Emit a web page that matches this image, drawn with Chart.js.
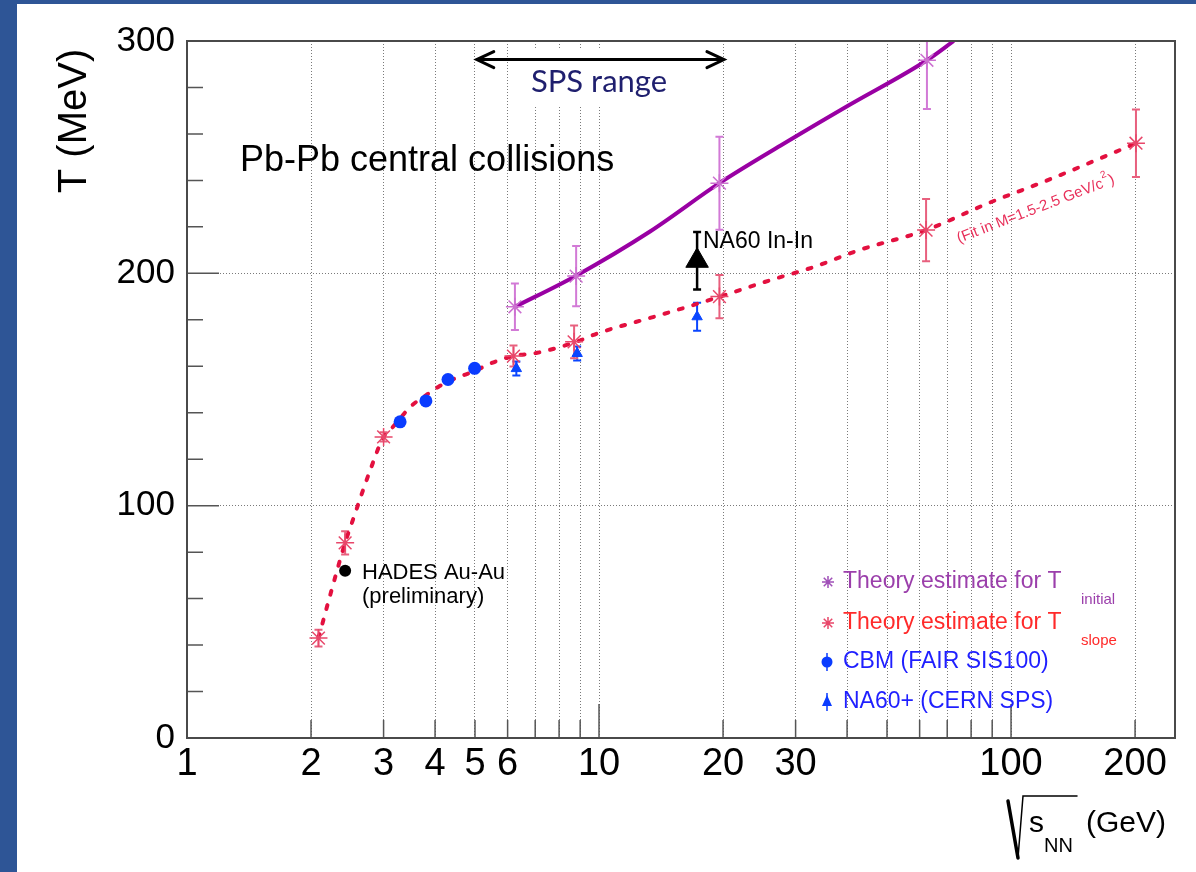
<!DOCTYPE html>
<html>
<head>
<meta charset="utf-8">
<script src="https://cdn.jsdelivr.net/npm/chart.js@4.4.1/dist/chart.umd.min.js"></script>
<style>
  html, body { margin: 0; padding: 0; background: #2e5596; }
  #wrap { width: 1196px; height: 872px; }
</style>
</head>
<body>
<div id="wrap"><canvas id="tempChart" width="1196" height="872"></canvas></div>
<script>
const FONT = "'Liberation Sans', Arial, sans-serif";

// axis ticks
const xTickValues = [1, 2, 3, 4, 5, 6, 7, 8, 9, 10, 20, 30, 40, 50, 60, 70, 80, 90, 100, 200];
const xLabels = [1, 2, 3, 4, 5, 6, 10, 20, 30, 100, 200];
const yTickValues = [0, 100, 200, 300];

// fit curve through T_slope estimates (red dashed)
const slopeFitX = [2.085, 2.23, 2.42, 2.54, 2.78, 3.0, 3.11, 3.29, 3.48, 3.8, 4.08, 4.48, 5.0, 5.45, 6.2, 7.08, 8.8, 9.9, 13.6, 16.2, 19.6, 26.1, 33.3, 42.8, 62.2, 87.8, 122.8, 183.4, 201];
const slopeFitY = [43, 62, 84, 95, 115, 129.6, 132.5, 137.5, 142.5, 147.5, 151.2, 154.8, 158, 161.2, 164.4, 165.8, 170.5, 174.1, 181.3, 185.3, 189.9, 197.1, 202.8, 210, 218.6, 230.1, 240.1, 253, 256];

// curve through T_initial estimates (purple solid)
const initFitX = [6.25, 8.8, 13.3, 19.6, 27.6, 40.1, 62.5, 72.6];
const initFitY = [185.6, 199, 218, 238.8, 255, 272, 291.7, 300];

// theory estimate for T_slope
const slopeX = [2.085, 2.42, 3.0, 6.2, 8.7, 19.6, 62.2, 201];
const slopeY = [43, 84, 129.6, 164.4, 170.5, 190, 218.6, 256];
const slopeErr = [3.6, 5, 2, 4.5, 7, 9.3, 13.4, 14.5];

// theory estimate for T_initial
const initX = [6.25, 8.8, 19.6, 62.5];
const initY = [185.6, 198.8, 238.8, 291.7];
const initErr = [10, 13, 20, 21];

// CBM (FAIR SIS100)
const cbmX = [3.29, 3.8, 4.3, 4.99];
const cbmY = [136.1, 145.1, 154.3, 159.1];

// NA60+ (CERN SPS)
const na60pX = [6.3, 8.85, 17.3];
const na60pY = [159, 165.5, 181.3];
const na60pErr = [3, 3, 6];

// NA60 In-In
const na60X = [17.3];
const na60Y = [205.4];
const na60Err = [12.4];

// HADES Au-Au
const hadesX = [2.42];
const hadesY = [72];

const pts = (xs, ys) => xs.map((x, i) => ({ x: x, y: ys[i] }));

const background = {
    id: 'background',
    beforeDraw(chart) {
        const ctx = chart.ctx;
        ctx.save();
        ctx.fillStyle = '#2e5596';
        ctx.fillRect(0, 0, chart.width, chart.height);
        ctx.fillStyle = '#ffffff';
        ctx.fillRect(17, 4, chart.width - 17, chart.height - 4);
        ctx.restore();
    }
};

const axisDecor = {
    id: 'axisDecor',
    beforeDatasetsDraw(chart) {
        const { ctx, chartArea: a, scales: { x, y } } = chart;
        ctx.save();
        // inward tick marks
        ctx.strokeStyle = '#555';
        ctx.lineWidth = 1.5;
        ctx.beginPath();
        for (let v = 0; v <= 300; v += 20) {
            const py = y.getPixelForValue(v);
            const len = v % 100 === 0 ? 32 : 16;
            ctx.moveTo(a.left, py);
            ctx.lineTo(a.left + len, py);
        }
        xTickValues.forEach(v => {
            const px = x.getPixelForValue(v);
            const len = [1, 10, 100].includes(v) ? 34 : 18;
            ctx.moveTo(px, a.bottom);
            ctx.lineTo(px, a.bottom - len);
        });
        ctx.stroke();

        // SPS range box, arrow and text
        ctx.fillStyle = '#ffffff';
        ctx.fillRect(520, 50, 180, 57);
        const ay = y.getPixelForValue(292);
        const x1 = x.getPixelForValue(5.05);
        const x2 = x.getPixelForValue(20.1);
        ctx.strokeStyle = '#000';
        ctx.lineWidth = 3;
        ctx.lineCap = 'round';
        ctx.beginPath();
        ctx.moveTo(x1, ay); ctx.lineTo(x2, ay);
        ctx.moveTo(x1 + 17, ay - 8); ctx.lineTo(x1, ay); ctx.lineTo(x1 + 17, ay + 8);
        ctx.moveTo(x2 - 17, ay - 8); ctx.lineTo(x2, ay); ctx.lineTo(x2 - 17, ay + 8);
        ctx.stroke();
        ctx.fillStyle = '#1f1f6e';
        ctx.font = "31px Lato, 'Open Sans', sans-serif";
        ctx.textAlign = 'center';
        ctx.textBaseline = 'middle';
        ctx.fillText('SPS range', 599, 82);

        // error bars
        ctx.beginPath();
        ctx.rect(a.left, a.top, a.right - a.left, a.bottom - a.top);
        ctx.clip();
        ctx.lineCap = 'butt';
        chart.data.datasets.forEach(ds => {
            if (!ds.errY) return;
            ctx.strokeStyle = ds.errColor;
            ctx.lineWidth = ds.errWidth;
            ds.data.forEach((p, i) => {
                const px = x.getPixelForValue(p.x);
                const top = y.getPixelForValue(p.y + ds.errY[i]);
                const bot = y.getPixelForValue(p.y - ds.errY[i]);
                ctx.beginPath();
                ctx.moveTo(px, top); ctx.lineTo(px, bot);
                ctx.moveTo(px - 4, top); ctx.lineTo(px + 4, top);
                ctx.moveTo(px - 4, bot); ctx.lineTo(px + 4, bot);
                ctx.stroke();
            });
        });
        ctx.restore();
    }
};

function drawStar(ctx, cx, cy, r) {
    ctx.beginPath();
    for (let k = 0; k < 4; k++) {
        const ang = k * Math.PI / 4;
        ctx.moveTo(cx - r * Math.sin(ang), cy - r * Math.cos(ang));
        ctx.lineTo(cx + r * Math.sin(ang), cy + r * Math.cos(ang));
    }
    ctx.stroke();
}

const annotations = {
    id: 'annotations',
    afterDraw(chart) {
        const { ctx, chartArea: a } = chart;
        ctx.save();
        // frame
        ctx.strokeStyle = '#4a4a4a';
        ctx.lineWidth = 2;
        ctx.strokeRect(a.left, a.top, a.right - a.left, a.bottom - a.top);

        ctx.fillStyle = '#000';
        ctx.textBaseline = 'alphabetic';
        ctx.textAlign = 'left';

        // y axis title
        ctx.save();
        ctx.translate(86, 121);
        ctx.rotate(-Math.PI / 2);
        ctx.textAlign = 'center';
        ctx.font = '40px ' + FONT;
        ctx.fillText('T (MeV)', 0, 0);
        ctx.restore();

        // x axis title
        ctx.strokeStyle = '#000';
        ctx.lineCap = 'round';
        ctx.lineWidth = 3.5;
        ctx.beginPath();
        ctx.moveTo(1008, 801); ctx.lineTo(1018, 858);
        ctx.stroke();
        ctx.lineWidth = 1.5;
        ctx.beginPath();
        ctx.moveTo(1018, 858); ctx.lineTo(1023, 796); ctx.lineTo(1077, 796);
        ctx.stroke();
        ctx.font = '30px ' + FONT;
        ctx.fillText('s', 1029, 832);
        ctx.font = '20px ' + FONT;
        ctx.fillText('NN', 1044, 852);
        ctx.font = '30px ' + FONT;
        ctx.fillText('(GeV)', 1086, 832);

        // in-plot labels
        ctx.font = '36px ' + FONT;
        ctx.fillText('Pb-Pb central collisions', 240, 171);
        ctx.font = '22px ' + FONT;
        ctx.textBaseline = 'middle';
        ctx.fillText('HADES Au-Au', 362, 573);
        ctx.fillText('(preliminary)', 362, 597);
        ctx.font = '23px ' + FONT;
        ctx.fillText('NA60 In-In', 703, 242);

        // fit range note
        ctx.save();
        ctx.translate(959, 243);
        ctx.rotate(-21 * Math.PI / 180);
        ctx.fillStyle = '#e8305a';
        ctx.textBaseline = 'alphabetic';
        ctx.font = '15px ' + FONT;
        const main = '(Fit in M=1.5-2.5 GeV/c';
        ctx.fillText(main, 0, 0);
        const w = ctx.measureText(main).width;
        ctx.font = '10px ' + FONT;
        ctx.fillText('2', w + 1, -9);
        ctx.font = '15px ' + FONT;
        ctx.fillText(')', w + 7, 0);
        ctx.restore();

        // legend
        const rows = [
            { y: 582, color: '#9b3fab', text: 'Theory estimate for T', sub: 'initial' },
            { y: 623, color: '#ff2a2a', text: 'Theory estimate for T', sub: 'slope' },
            { y: 662, color: '#1f1fff', text: 'CBM (FAIR SIS100)' },
            { y: 702, color: '#1f1fff', text: 'NA60+ (CERN SPS)' }
        ];
        ctx.lineWidth = 1.5;
        ctx.lineCap = 'butt';
        ctx.strokeStyle = '#a050b8';
        drawStar(ctx, 828, rows[0].y, 6);
        ctx.strokeStyle = '#e8476a';
        drawStar(ctx, 828, rows[1].y, 6);
        ctx.fillStyle = '#0a3cff';
        ctx.strokeStyle = '#0a3cff';
        ctx.beginPath();
        ctx.moveTo(827, rows[2].y - 9); ctx.lineTo(827, rows[2].y + 9);
        ctx.moveTo(827, rows[3].y - 9); ctx.lineTo(827, rows[3].y + 9);
        ctx.stroke();
        ctx.beginPath();
        ctx.arc(827, rows[2].y, 5.5, 0, Math.PI * 2);
        ctx.fill();
        ctx.beginPath();
        ctx.moveTo(827, rows[3].y - 7);
        ctx.lineTo(832, rows[3].y + 4);
        ctx.lineTo(822, rows[3].y + 4);
        ctx.closePath();
        ctx.fill();

        ctx.textBaseline = 'middle';
        rows.forEach(r => {
            ctx.fillStyle = r.color;
            ctx.font = '23px ' + FONT;
            ctx.fillText(r.text, 843, r.y);
            if (r.sub) {
                ctx.font = '15px ' + FONT;
                ctx.fillText(r.sub, 1081, r.y + 18);
            }
        });
        ctx.restore();
    }
};

const ctx = document.getElementById('tempChart');

new Chart(ctx, {
    type: 'scatter',
    data: {
        datasets: [
            {
                label: 'HADES Au-Au',
                data: pts(hadesX, hadesY),
                pointStyle: 'circle',
                pointRadius: 6,
                pointBackgroundColor: '#000',
                pointBorderWidth: 0,
                order: 1
            },
            {
                label: 'NA60 In-In',
                data: pts(na60X, na60Y),
                pointStyle: 'triangle',
                pointRadius: 13,
                pointBackgroundColor: '#000',
                pointBorderColor: '#000',
                pointBorderWidth: 1,
                errY: na60Err,
                errColor: '#000',
                errWidth: 2.5,
                order: 1
            },
            {
                label: 'CBM (FAIR SIS100)',
                data: pts(cbmX, cbmY),
                pointStyle: 'circle',
                pointRadius: 6.5,
                pointBackgroundColor: '#0a3cff',
                pointBorderWidth: 0,
                order: 2
            },
            {
                label: 'NA60+ (CERN SPS)',
                data: pts(na60pX, na60pY),
                pointStyle: 'triangle',
                pointRadius: 6,
                pointBackgroundColor: '#0a46ff',
                pointBorderColor: '#0a46ff',
                pointBorderWidth: 1,
                errY: na60pErr,
                errColor: '#0a46ff',
                errWidth: 2,
                order: 2
            },
            {
                label: 'Theory estimate for T slope',
                data: pts(slopeX, slopeY),
                pointStyle: 'star',
                pointRadius: 9,
                pointBorderColor: '#e8476a',
                pointBackgroundColor: 'transparent',
                pointBorderWidth: 1.5,
                errY: slopeErr,
                errColor: '#e8607e',
                errWidth: 2,
                order: 3
            },
            {
                label: 'Theory estimate for T initial',
                data: pts(initX, initY),
                pointStyle: 'star',
                pointRadius: 9,
                pointBorderColor: '#cc70d0',
                pointBackgroundColor: 'transparent',
                pointBorderWidth: 1.5,
                errY: initErr,
                errColor: '#d27ad6',
                errWidth: 2,
                order: 3
            },
            {
                label: 'fit slope',
                data: pts(slopeFitX, slopeFitY),
                showLine: true,
                borderColor: '#e3103f',
                borderWidth: 4,
                borderDash: [4, 11],
                borderCapStyle: 'round',
                cubicInterpolationMode: 'monotone',
                pointRadius: 0,
                order: 5
            },
            {
                label: 'fit initial',
                data: pts(initFitX, initFitY),
                showLine: true,
                borderColor: '#9900a3',
                borderWidth: 4,
                cubicInterpolationMode: 'monotone',
                pointRadius: 0,
                order: 4
            }
        ]
    },
    options: {
        responsive: false,
        animation: false,
        layout: { padding: { top: 41, right: 21, left: 0, bottom: 0 } },
        plugins: {
            legend: { display: false },
            tooltip: { enabled: false }
        },
        scales: {
            x: {
                type: 'logarithmic',
                min: 1,
                max: 250,
                afterBuildTicks: s => { s.ticks = xTickValues.map(v => ({ value: v })); },
                afterFit: s => { s.height = 134; },
                grid: { color: '#7a7a7a', lineWidth: 1, drawTicks: false },
                border: { display: false, dash: [1, 2] },
                ticks: {
                    autoSkip: false,
                    maxRotation: 0,
                    minRotation: 0,
                    padding: 4,
                    color: '#000',
                    font: { family: FONT, size: 38 },
                    callback: v => xLabels.includes(v) ? String(v) : ''
                }
            },
            y: {
                min: 0,
                max: 300,
                afterBuildTicks: s => { s.ticks = yTickValues.map(v => ({ value: v })); },
                afterFit: s => { s.width = 187; },
                grid: { color: '#7a7a7a', lineWidth: 1, drawTicks: false },
                border: { display: false, dash: [1, 2] },
                ticks: {
                    padding: 12,
                    color: '#000',
                    font: { family: FONT, size: 35 }
                }
            }
        }
    },
    plugins: [background, axisDecor, annotations]
});
</script>
</body>
</html>
